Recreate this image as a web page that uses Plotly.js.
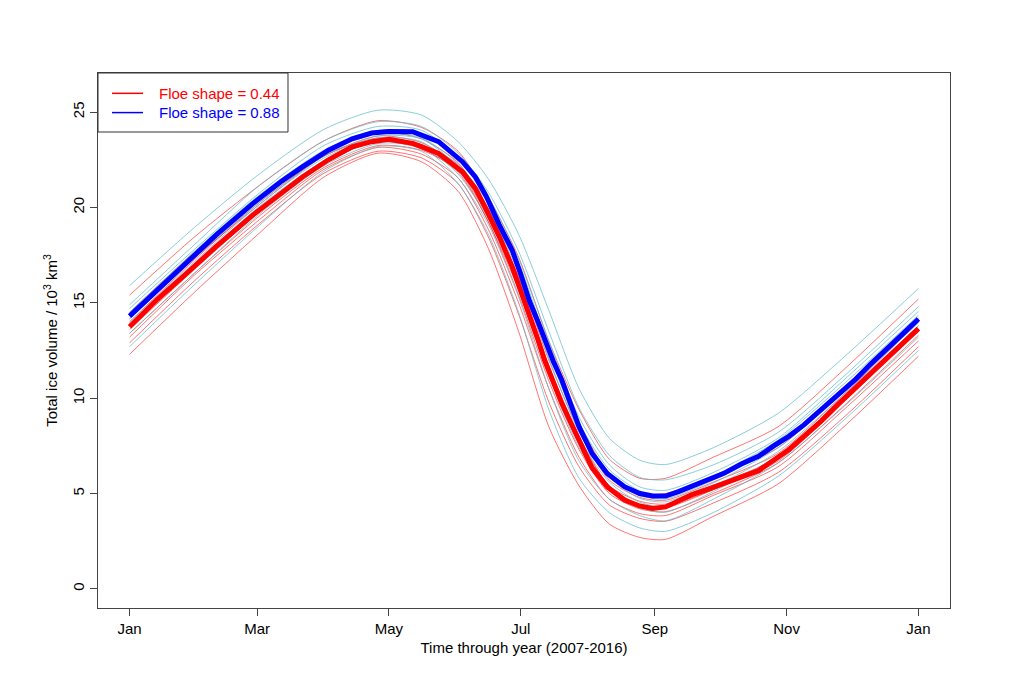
<!DOCTYPE html>
<html>
<head>
<meta charset="utf-8">
<script src="https://cdn.plot.ly/plotly-3.0.1.min.js"></script>
<style>html,body{margin:0;padding:0;background:#fff;}#chart{width:1024px;height:683px;}</style>
</head>
<body>
<div id="chart"></div>
<script>
// ---- x-axis ticks (day of year) ----
const tickDays = [0, 59, 120, 181, 243, 304, 365];
const tickLabels = ["Jan", "Mar", "May", "Jul", "Sep", "Nov", "Jan"];

// ---- mean curves (10^3 km^3) ----
const meanDays = [0, 13, 26, 40, 57, 70, 80, 92, 103, 112, 120, 131, 143, 154, 160, 165, 171, 177, 181, 185, 189, 192, 196, 200, 204, 208, 214, 221, 229, 236, 242, 248, 254, 260, 268, 275, 283, 291, 298, 305, 312, 320, 328, 336, 343, 351, 358, 365];
const meanRed044 = [13.75, 15.2, 16.5, 17.95, 19.6, 20.75, 21.6, 22.5, 23.18, 23.45, 23.57, 23.36, 22.83, 21.87, 21.0, 19.9, 18.5, 16.9, 15.65, 14.35, 13.05, 12.0, 10.8, 9.73, 8.75, 7.8, 6.35, 5.35, 4.66, 4.35, 4.22, 4.3, 4.6, 4.93, 5.25, 5.54, 5.85, 6.2, 6.75, 7.3, 8.0, 8.8, 9.7, 10.55, 11.35, 12.2, 12.95, 13.65];
const meanBlue088 = [14.3, 15.7, 17.07, 18.55, 20.2, 21.35, 22.13, 23.0, 23.6, 23.9, 23.98, 23.97, 23.45, 22.4, 21.6, 20.6, 19.1, 17.77, 16.5, 15.1, 14.0, 13.05, 11.95, 10.95, 9.7, 8.5, 7.1, 6.05, 5.36, 5.0, 4.87, 4.87, 5.1, 5.36, 5.7, 6.06, 6.55, 6.95, 7.5, 8.0, 8.6, 9.4, 10.2, 11.0, 11.8, 12.7, 13.4, 14.15];

// ---- individual years ----
const yearDays = [0, 30, 60, 90, 115, 135, 152, 166, 180, 194, 208, 222, 236, 248, 270, 300, 330, 365];
// floe shape 0.44
const red2007 = [15.4, 18.45, 21.15, 23.5, 24.55, 24.2, 22.95, 20.55, 17.4, 13.0, 9.4, 6.8, 5.8, 5.8, 6.9, 8.5, 11.45, 15.2];
const red2008 = [14.5, 17.65, 20.45, 22.9, 23.95, 23.6, 22.35, 19.95, 16.8, 12.4, 8.7, 6.0, 5.0, 5.0, 5.9, 7.4, 10.35, 14.2];
const red2009 = [14.2, 17.35, 20.15, 22.7, 23.75, 23.4, 22.15, 19.65, 16.4, 12.0, 8.3, 5.7, 4.8, 4.65, 5.6, 7.1, 10.15, 14.0];
const red2010 = [14.0, 17.25, 20.25, 22.7, 23.65, 23.3, 22.25, 19.85, 16.3, 11.7, 8.0, 5.4, 4.6, 4.45, 5.4, 6.9, 10.05, 13.8];
const red2011 = [13.8, 17.05, 19.85, 22.3, 23.55, 23.3, 22.05, 19.45, 16.0, 11.5, 7.8, 5.4, 4.4, 4.35, 5.2, 6.7, 9.75, 13.6];
const red2012 = [13.6, 16.75, 19.75, 22.4, 23.45, 23.1, 21.85, 19.25, 15.7, 11.2, 7.6, 5.3, 4.3, 4.25, 5.2, 6.9, 9.85, 13.5];
const red2013 = [13.4, 16.55, 19.55, 22.1, 23.25, 23.0, 21.95, 19.25, 15.4, 10.9, 7.3, 5.0, 4.2, 4.05, 5.0, 6.6, 9.55, 13.3];
const red2014 = [13.2, 16.45, 19.35, 22.0, 23.15, 22.8, 21.55, 18.85, 15.0, 10.5, 6.9, 4.7, 3.95, 3.85, 4.9, 6.4, 9.35, 13.0];
const red2015 = [12.9, 16.15, 19.15, 21.8, 22.95, 22.6, 21.25, 18.45, 14.4, 9.8, 6.4, 4.4, 3.7, 3.55, 4.5, 6.1, 8.95, 12.7];
const red2016 = [12.3, 15.55, 18.65, 21.6, 22.85, 22.4, 20.85, 17.85, 13.5, 8.5, 5.4, 3.4, 2.7, 2.6, 3.8, 5.5, 8.45, 12.2];
// floe shape 0.88
const cyan2007 = [15.9, 18.95, 21.75, 24.1, 25.1, 24.85, 23.45, 21.5, 18.6, 14.6, 10.5, 7.9, 6.75, 6.52, 7.4, 9.2, 12.1, 15.75];
const cyan2008 = [14.9, 18.05, 21.15, 23.5, 24.5, 24.25, 22.85, 20.8, 17.7, 13.5, 9.5, 7.0, 5.85, 5.72, 6.5, 8.2, 11.1, 14.8];
const cyan2009 = [14.7, 17.8, 20.75, 23.25, 24.25, 24.05, 22.65, 20.55, 17.3, 13.0, 9.0, 6.5, 5.35, 5.17, 6.1, 7.9, 10.9, 14.55];
const cyan2010 = [14.5, 17.7, 20.65, 23.0, 24.05, 23.9, 22.55, 20.4, 17.1, 12.7, 8.7, 6.25, 5.15, 4.92, 5.9, 7.8, 10.7, 14.35];
const cyan2011 = [14.3, 17.4, 20.45, 22.9, 23.9, 23.65, 22.3, 20.2, 16.9, 12.4, 8.4, 6.0, 4.9, 4.72, 5.7, 7.5, 10.5, 14.15];
const cyan2012 = [14.15, 17.35, 20.25, 22.7, 23.75, 23.6, 22.15, 19.9, 16.55, 12.1, 8.2, 5.85, 4.75, 4.57, 5.55, 7.4, 10.3, 13.95];
const cyan2013 = [14.0, 17.15, 20.15, 22.6, 23.65, 23.45, 21.95, 19.7, 16.2, 11.7, 7.9, 5.6, 4.55, 4.32, 5.35, 7.2, 10.15, 13.8];
const cyan2014 = [13.8, 17.0, 20.05, 22.45, 23.5, 23.25, 21.75, 19.4, 15.8, 11.2, 7.4, 5.2, 4.25, 4.02, 5.1, 7.0, 9.9, 13.6];
const cyan2015 = [13.4, 16.55, 19.65, 22.2, 23.35, 23.15, 21.55, 19.1, 15.3, 10.5, 6.7, 4.7, 3.85, 3.57, 4.7, 6.6, 9.5, 13.2];
const cyan2016 = [12.7, 15.95, 19.05, 21.9, 23.2, 22.95, 21.25, 18.6, 14.5, 9.4, 5.8, 4.0, 3.2, 3.02, 4.0, 5.9, 8.8, 12.5];

const redYears = [red2007, red2008, red2009, red2010, red2011, red2012, red2013, red2014, red2015, red2016];
const cyanYears = [cyan2007, cyan2008, cyan2009, cyan2010, cyan2011, cyan2012, cyan2013, cyan2014, cyan2015, cyan2016];

const legendNames = ["Floe shape = 0.44", "Floe shape = 0.88"];
const legendColors = ["#ff0000", "#0000ff"];

const FONT = "Liberation Sans, Arial, Helvetica, sans-serif";
const traces = [];
for (let i = 0; i < redYears.length; i++) {
  traces.push({x: yearDays, y: redYears[i], type: "scatter", mode: "lines", showlegend: false, hoverinfo: "skip",
    line: {color: "rgba(255,0,0,0.55)", width: 1, shape: "spline", smoothing: 0.7}});
  traces.push({x: yearDays, y: cyanYears[i], type: "scatter", mode: "lines", showlegend: false, hoverinfo: "skip",
    line: {color: "rgba(100,188,204,0.75)", width: 1, shape: "spline", smoothing: 0.7}});
}
traces.push({x: meanDays, y: meanRed044, type: "scatter", mode: "lines", showlegend: false,
  line: {color: "#ff0000", width: 5}});
traces.push({x: meanDays, y: meanBlue088, type: "scatter", mode: "lines", showlegend: false,
  line: {color: "#0000ff", width: 5}});

// legend box drawn in paper coordinates of the plot area (x 98-950 px, y 73-608 px)
const shapes = [
  {type: "rect", xref: "paper", yref: "paper", x0: 0, x1: 0.223, y0: 0.8897, y1: 1,
   line: {color: "#333", width: 1}, fillcolor: "#fff", layer: "above"}
];
const annotations = [];
const legendY = [0.962, 0.926];
for (let k = 0; k < 2; k++) {
  shapes.push({type: "line", xref: "paper", yref: "paper", x0: 0.0164, x1: 0.0528, y0: legendY[k], y1: legendY[k],
    line: {color: legendColors[k], width: 1.5}, layer: "above"});
  annotations.push({xref: "paper", yref: "paper", x: 0.0692, y: legendY[k], xanchor: "left", yanchor: "middle",
    text: legendNames[k], showarrow: false, font: {family: FONT, size: 15, color: legendColors[k]}});
}

const layout = {
  width: 1024, height: 683,
  margin: {l: 98, r: 74, t: 73, b: 75},
  paper_bgcolor: "#fff", plot_bgcolor: "#fff",
  font: {family: FONT, size: 15, color: "#000"},
  showlegend: false,
  shapes: shapes,
  annotations: annotations,
  xaxis: {
    range: [-14.6, 379.6], tickmode: "array", tickvals: tickDays, ticktext: tickLabels,
    showgrid: false, zeroline: false, showline: true, mirror: true, linecolor: "#444", linewidth: 1,
    ticks: "outside", ticklen: 7, tickcolor: "#444", tickfont: {size: 15},
    title: {text: "Time through year (2007-2016)", font: {size: 15}, standoff: 6}
  },
  yaxis: {
    range: [-1.0, 27.05], tickmode: "linear", tick0: 0, dtick: 5, tickangle: -90,
    showgrid: false, zeroline: false, showline: true, mirror: true, linecolor: "#444", linewidth: 1,
    ticks: "outside", ticklen: 7, tickcolor: "#444", tickfont: {size: 15},
    title: {text: "Total ice volume / 10<sup>3</sup> km<sup>3</sup>", font: {size: 15}, standoff: 8}
  }
};

Plotly.newPlot("chart", traces, layout, {displayModeBar: false, staticPlot: true});
</script>
</body>
</html>
